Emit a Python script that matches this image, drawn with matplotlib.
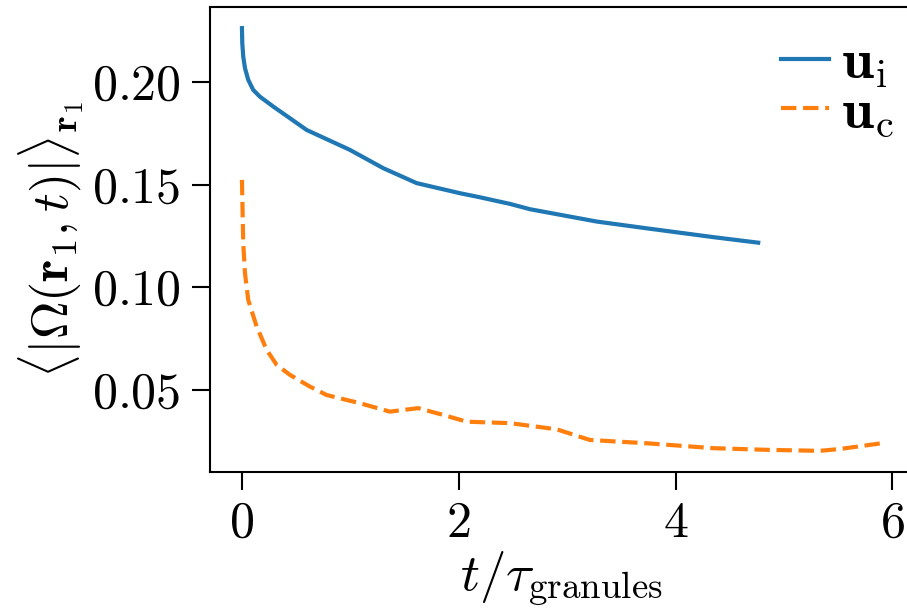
import numpy as np
import matplotlib
matplotlib.use("Agg")
from matplotlib import pyplot as plt
from matplotlib.ticker import FuncFormatter

# values
t_i = [0.0, 0.003, 0.012, 0.028, 0.058, 0.104, 0.166, 0.289, 0.597, 0.996,
       1.303, 1.612, 2.011, 2.196, 2.472, 2.657, 3.272, 3.733, 4.348, 4.763]
omega_i = [0.2262, 0.2189, 0.2123, 0.2067, 0.2010, 0.1961, 0.1928, 0.1880,
           0.1766, 0.1669, 0.1580, 0.1507, 0.1458, 0.1438, 0.1406, 0.1380,
           0.1320, 0.1287, 0.1244, 0.1217]

t_c = [0.0, 0.012, 0.028, 0.058, 0.136, 0.228, 0.320, 0.443, 0.627, 0.781,
       1.089, 1.365, 1.626, 1.857, 2.073, 2.472, 2.903, 3.210, 3.733, 4.348,
       4.840, 5.332, 5.517, 5.901]
omega_c = [0.1523, 0.1214, 0.1068, 0.0938, 0.0808, 0.0695, 0.0622, 0.0573,
           0.0516, 0.0475, 0.0435, 0.0394, 0.0411, 0.0378, 0.0345, 0.0338,
           0.0308, 0.0256, 0.0240, 0.0216, 0.0208, 0.0203, 0.0212, 0.0240]

xticks = [0, 2, 4, 6]
yticks = [0.05, 0.10, 0.15, 0.20]

plt.rcParams['mathtext.fontset'] = 'cm'
plt.rcParams['font.family'] = 'serif'
plt.rcParams['font.serif'] = ['cmr10', 'DejaVu Serif']

fig = plt.figure(figsize=(9.07, 6.14), dpi=100)
ax = fig.add_axes([0.2315, 0.2313, 0.7757, 0.7573])

ax.plot(t_i, omega_i, color='tab:blue', lw=3, label=r'$\mathbf{u}_\mathrm{i}$')
ax.plot(t_c, omega_c, color='tab:orange', lw=3, ls='--', label=r'$\mathbf{u}_\mathrm{c}$')

ax.set_xticks(xticks)
ax.set_yticks(yticks)
ax.xaxis.set_major_formatter(FuncFormatter(lambda v, p: r'$%g$' % v))
ax.yaxis.set_major_formatter(FuncFormatter(lambda v, p: r'$%.2f$' % v))
ax.tick_params(labelsize=36, length=13, width=1.5, pad=8)
for s in ax.spines.values():
    s.set_linewidth(1.5)

ax.set_xlabel(r'$t/\tau_\mathrm{granules}$', fontsize=38, labelpad=2)
ax.set_ylabel(r'$\langle|\Omega(\mathbf{r}_1, t)|\rangle_{\mathbf{r}_1}$', fontsize=37.5, labelpad=4)

ax.legend(frameon=False, loc='upper right', bbox_to_anchor=(1.0, 0.975),
          fontsize=41, handlelength=0.85, handletextpad=0.2,
          labelspacing=-0.05, borderaxespad=-0.05)

fig.savefig('out.png', dpi=100)
